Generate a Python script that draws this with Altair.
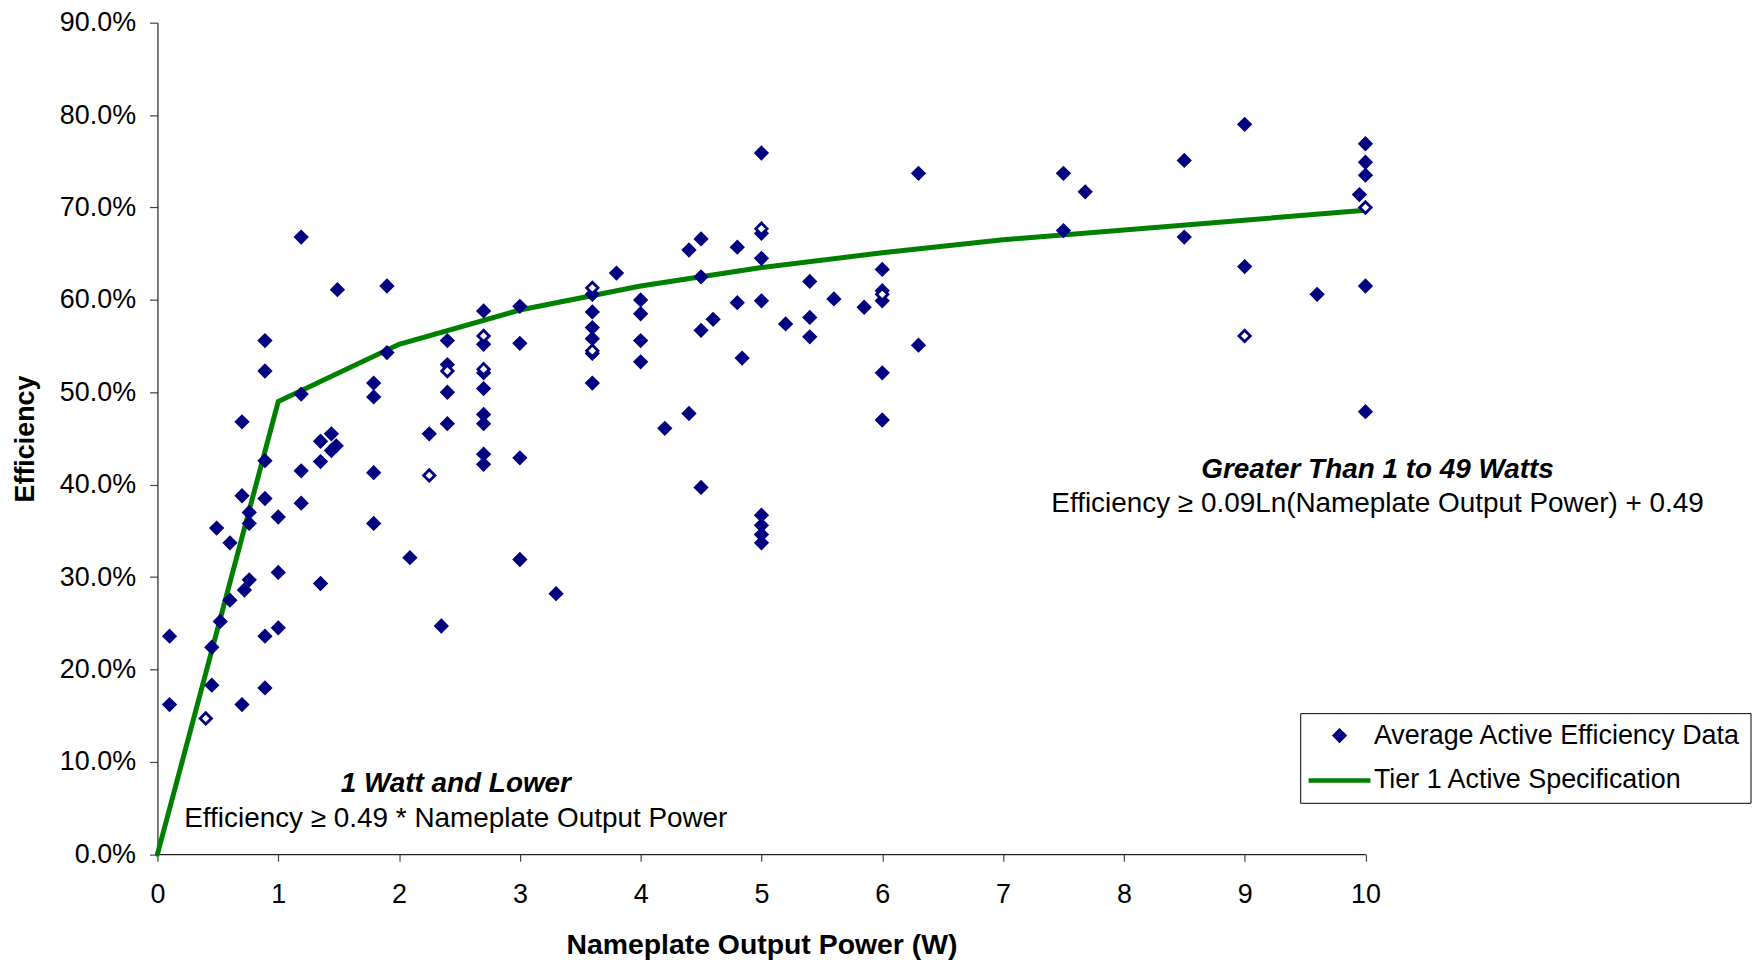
import altair as alt
import pandas as pd

# ---------------- data ----------------
power = [
    0.10, 0.10, 0.40, 0.45, 0.45, 0.49, 0.52, 0.60, 0.60, 0.70,
    0.70, 0.70, 0.72, 0.76, 0.76, 0.76, 0.89, 0.89, 0.89, 0.89,
    0.89, 0.89, 1.00, 1.00, 1.00, 1.19, 1.19, 1.19, 1.19, 1.35,
    1.35, 1.35, 1.44, 1.48, 1.44, 1.49, 1.79, 1.79, 1.79, 1.79,
    1.90, 1.90, 2.09, 2.25, 2.25, 2.35, 2.40, 2.40, 2.40, 2.40,
    2.40, 2.70, 2.70, 2.70, 2.70, 2.70, 2.70, 2.70, 2.70, 2.70,
    2.70, 3.00, 3.00, 3.00, 3.00, 3.30, 3.60, 3.60, 3.60, 3.60,
    3.60, 3.60, 3.60, 3.60, 3.80, 4.00, 4.00, 4.00, 4.00, 4.20,
    4.40, 4.40, 4.50, 4.50, 4.50, 4.50, 4.60, 4.80, 4.80, 4.84,
    5.00, 5.00, 5.00, 5.00, 5.00, 5.00, 5.00, 5.00, 5.00, 5.20,
    5.40, 5.40, 5.40, 5.60, 5.85, 6.00, 6.00, 6.00, 6.00, 6.00,
    6.00, 6.30, 6.30, 7.50, 7.68, 7.50, 8.50, 8.50, 9.00, 9.00,
    9.00, 9.60, 10.0, 10.0, 10.0, 9.95, 10.0, 10.0, 10.0,
]
efficiency_pct = [
    23.6, 16.2, 14.7, 22.4, 18.3, 35.3, 25.2, 33.7, 27.5, 46.8,
    38.8, 16.2, 28.6, 37.0, 35.8, 29.7, 55.6, 52.3, 42.6, 38.5,
    23.6, 18.0, 36.5, 30.5, 24.5, 66.8, 49.8, 41.5, 38.0, 44.7,
    42.5, 29.3, 45.5, 44.2, 43.7, 61.1, 51.0, 49.5, 41.3, 35.8,
    61.5, 54.3, 32.1, 45.5, 41.0, 24.7, 55.6, 53.0, 52.3, 50.0,
    46.6, 58.8, 56.1, 55.2, 52.5, 52.1, 50.4, 47.6, 46.6, 43.3,
    42.2, 59.3, 55.3, 42.9, 31.9, 28.2, 61.3, 60.6, 58.7, 57.0,
    55.8, 54.5, 54.2, 51.0, 62.9, 60.0, 58.5, 55.6, 53.3, 46.1,
    65.4, 47.7, 66.6, 62.5, 56.7, 39.7, 57.9, 65.7, 59.7, 53.7,
    75.9, 67.7, 67.2, 64.5, 59.9, 36.7, 35.6, 34.6, 33.7, 57.4,
    62.0, 58.1, 56.0, 60.1, 59.2, 63.3, 61.0, 60.6, 59.9, 52.1,
    47.0, 73.7, 55.1, 73.7, 71.7, 67.5, 75.1, 66.8, 79.0, 63.6,
    56.1, 60.6, 76.9, 74.9, 73.5, 71.4, 70.0, 61.5, 47.9,
]
hollow = [
    False, False, True, False, False, False, False, False, False, False,
    False, False, False, False, False, False, False, False, False, False,
    False, False, False, False, False, False, False, False, False, False,
    False, False, False, False, False, False, False, False, False, False,
    False, False, False, False, True, False, False, False, True, False,
    False, False, True, False, True, False, False, False, False, False,
    False, False, False, False, False, False, True, False, False, False,
    False, True, False, False, False, False, False, False, False, False,
    False, False, False, False, False, False, False, False, False, False,
    False, True, False, False, False, False, False, False, False, False,
    False, False, False, False, False, False, False, True, False, False,
    False, False, False, False, False, False, False, False, False, False,
    True, False, False, False, False, False, True, False, False,
]

spec_power = [0, 1, 2, 3, 4, 5, 6, 7, 10]
spec_efficiency = [0.0, 0.490, 0.552, 0.589, 0.615, 0.635, 0.651, 0.665, 0.697]

annotation_text = [
    "Greater Than 1 to 49 Watts",
    "Efficiency \u2265 0.09Ln(Nameplate Output Power) + 0.49",
    "1 Watt and Lower",
    "Efficiency \u2265 0.49 * Nameplate Output Power",
]
annotation_power = [10.10, 10.10, 2.47, 2.47]
annotation_eff = [0.416, 0.379, 0.0755, 0.038]
annotation_bold = [True, False, True, False]

SERIES_DATA = "Average Active Efficiency Data"
SERIES_SPEC = "Tier 1 Active Specification"

# ---------------- tables ----------------
pts = pd.DataFrame({
    "power": power,
    "eff": [v / 100 for v in efficiency_pct],
    "style": ["hollow" if h else "filled" for h in hollow],
    "series": SERIES_DATA,
})
pts["order"] = [1 if h else 0 for h in hollow]
pts = pts.sort_values("order", kind="stable")

spec = pd.DataFrame({"power": spec_power, "eff": spec_efficiency})

ann = pd.DataFrame({
    "power": annotation_power,
    "eff": annotation_eff,
    "text": annotation_text,
    "bold": annotation_bold,
})

# ---------------- styling ----------------
FONT = "Liberation Sans"
NAVY = "#000080"
GREEN = "#008000"

x_scale = alt.Scale(domain=[0, 10], nice=False, zero=True)
y_scale = alt.Scale(domain=[0, 0.9], nice=False)

x_axis = alt.Axis(
    title="Nameplate Output Power (W)", values=list(range(11)), format="d",
    grid=False, tickSize=7, tickColor="#444", tickWidth=1.2,
    domainColor="#222", domainWidth=1.2,
    labelFont=FONT, labelFontSize=27, labelColor="#000", labelPadding=20,
    titleFont=FONT, titleFontSize=28.5, titleFontWeight="bold", titleColor="#000",
    titlePadding=24, labelFlush=False,
)
y_axis = alt.Axis(
    title="Efficiency", values=[i / 10 for i in range(10)], format=".1%",
    grid=False, tickSize=8, tickColor="#444", tickWidth=1.2,
    domainColor="#222", domainWidth=1.2,
    labelFont=FONT, labelFontSize=27, labelColor="#000", labelPadding=14,
    titleFont=FONT, titleFontSize=27, titleFontWeight="bold", titleColor="#000",
    titlePadding=20, labelFlush=False,
)

color_scale = alt.Scale(domain=[SERIES_DATA, SERIES_SPEC], range=[NAVY, GREEN])
shape_scale = alt.Scale(domain=[SERIES_DATA, SERIES_SPEC],
                        range=["diamond", "M-6.9,0L6.9,0"])

legend = alt.Legend(
    title=None, orient="none", legendX=1147, legendY=693, direction="vertical",
    labelFont=FONT, labelFontSize=27, labelColor="#000", labelLimit=0,
    symbolSize=81, symbolStrokeWidth=4.5, symbolFillColor=NAVY, symbolOpacity=1,
    symbolOffset=17, labelOffset=21, rowPadding=17, padding=9,
    strokeColor="#000", fillColor="#ffffff",
)

enc_x = alt.X("power:Q", scale=x_scale, axis=x_axis)
enc_y = alt.Y("eff:Q", scale=y_scale, axis=y_axis)

line = alt.Chart(spec).mark_line(strokeWidth=5, strokeCap="round", color=GREEN).encode(
    x=enc_x, y=enc_y,
)

points = alt.Chart(pts).mark_point(filled=False, size=130, strokeWidth=2.8, opacity=1).encode(
    x=enc_x, y=enc_y,
    color=alt.Color("series:N", scale=color_scale, legend=legend),
    shape=alt.Shape("series:N", scale=shape_scale, legend=legend),
    fill=alt.Fill("style:N", scale=alt.Scale(domain=["filled", "hollow"], range=[NAVY, "#ffffff"]), legend=None),
    order=alt.Order("order:Q"),
)

ann_bold = alt.Chart(ann).transform_filter("datum.bold").mark_text(
    font=FONT, fontSize=28, fontWeight="bold", fontStyle="italic", color="#000",
    align="center", baseline="middle",
).encode(x=enc_x, y=enc_y, text="text:N")

ann_plain = alt.Chart(ann).transform_filter("!datum.bold").mark_text(
    font=FONT, fontSize=28, color="#000", align="center", baseline="middle",
).encode(x=enc_x, y=enc_y, text="text:N")

chart = alt.layer(line, points, ann_bold, ann_plain).properties(
    width=1212.5, height=834.6,
    background="#ffffff",
    autosize=alt.AutoSizeParams(type="none"),
    padding={"left": 150, "top": 13, "right": 392, "bottom": 106},
).configure_view(stroke=None)

chart.save("out.html", embed_options={"renderer": "svg", "actions": False})
